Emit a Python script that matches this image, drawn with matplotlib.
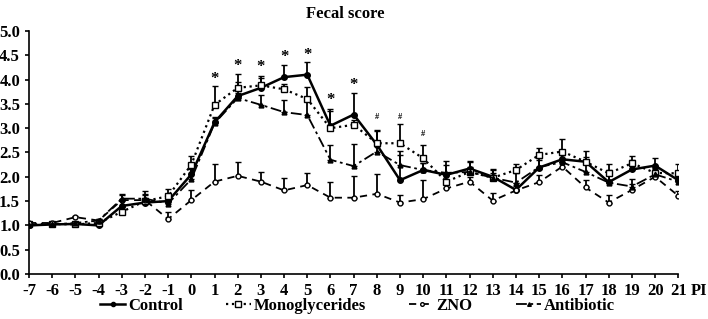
import numpy as np
from matplotlib import pyplot as plt
from matplotlib.lines import Line2D

# days post infection
days = list(range(-7, 22))

control = [1.0, 1.02, 1.03, 1.0, 1.4, 1.47, 1.5, 2.05, 3.12, 3.66, 3.83, 4.05, 4.1, 3.05, 3.28,
           2.66, 1.93, 2.14, 2.04, 2.17, 2.0, 1.73, 2.19, 2.36, 2.31, 1.89, 2.15, 2.23, 1.93]
control_err = [0.0, 0.02, 0.03, 0.02, 0.12, 0.1, 0.12, 0.2, 0.1, 0.3, 0.2, 0.25, 0.27, 0.35, 0.44,
               0.3, 0.6, 0.15, 0.2, 0.15, 0.15, 0.15, 0.2, 0.15, 0.22, 0.2, 0.2, 0.15, 0.15]

mono = [1.02, 1.03, 1.02, 1.05, 1.28, 1.5, 1.6, 2.25, 3.48, 3.83, 3.88, 3.8, 3.6, 3.0, 3.07,
        2.69, 2.69, 2.38, 1.9, 2.1, 1.98, 2.14, 2.45, 2.52, 2.31, 2.07, 2.28, 2.08, 2.07]
mono_err = [0.02, 0.02, 0.03, 0.05, 0.1, 0.15, 0.15, 0.18, 0.38, 0.28, 0.2, 0.1, 0.25, 0.35, 0.1,
            0.25, 0.4, 0.28, 0.15, 0.1, 0.15, 0.12, 0.15, 0.25, 0.1, 0.2, 0.15, 0.1, 0.2]

zno = [1.05, 1.05, 1.17, 1.1, 1.52, 1.52, 1.13, 1.52, 1.9, 2.02, 1.9, 1.72, 1.83, 1.57, 1.57,
       1.65, 1.47, 1.54, 1.76, 1.9, 1.51, 1.72, 1.89, 2.21, 1.78, 1.47, 1.73, 2.0, 1.61]
zno_err = [0.02, 0.02, 0.03, 0.03, 0.1, 0.1, 0.15, 0.2, 0.37, 0.28, 0.2, 0.25, 0.25, 0.33, 0.45,
           0.4, 0.15, 0.4, 0.1, 0.1, 0.15, 0.1, 0.15, 0.1, 0.15, 0.15, 0.12, 0.1, 0.1]

anti = [1.0, 1.02, 1.05, 1.1, 1.55, 1.55, 1.45, 1.95, 3.1, 3.62, 3.48, 3.33, 3.27, 2.35, 2.22,
        2.52, 2.24, 2.14, 2.08, 2.1, 1.98, 1.88, 2.2, 2.3, 2.1, 1.88, 1.8, 2.05, 1.9]
anti_err = [0.02, 0.02, 0.03, 0.03, 0.1, 0.15, 0.15, 0.2, 0.1, 0.1, 0.2, 0.25, 0.3, 0.3, 0.45,
            0.2, 0.2, 0.15, 0.25, 0.2, 0.1, 0.2, 0.15, 0.15, 0.2, 0.25, 0.15, 0.1, 0.1]

star_days = [1, 2, 3, 4, 5, 6, 7]
star_y = [4.02, 4.28, 4.25, 4.46, 4.5, 3.57, 3.88]
hash_days = [8, 9, 10]
hash_y = [3.22, 3.22, 2.88]

plt.rcParams['font.family'] = ['Liberation Serif', 'DejaVu Serif']
plt.rcParams['font.weight'] = 'bold'
plt.rcParams['axes.unicode_minus'] = False

fig = plt.figure(figsize=(7.08, 3.19), dpi=100)
ax = fig.add_axes([0.041, 0.141, 0.917, 0.762])

handles = []
def series(y, err, ls, marker, label, lw=1.3, mfc='black', ms=4):
    ax.errorbar(days, y, yerr=[np.zeros(len(err)), err], color='black', ls=ls, lw=lw,
                marker=marker, ms=ms, mfc=mfc, mec='black', mew=1.0,
                elinewidth=1.3, capsize=2, capthick=1.3)
    handles.append(Line2D([], [], color='black', ls=ls, lw=lw, marker=marker, ms=ms * 0.75,
                          mfc=mfc, mec='black', mew=1.0, label=label))

series(control, control_err, '-', 'o', 'Control', lw=1.8, ms=4)
series(mono, mono_err, ':', 's', 'Monoglycerides', lw=1.6, mfc='white', ms=5)
series(zno, zno_err, (0, (4, 3)), 'o', 'ZNO', lw=1.3, mfc='white', ms=3.5)
series(anti, anti_err, (0, (6, 2, 1.5, 2)), '^', 'Antibiotic', lw=1.3, ms=3.5)

for d, y in zip(star_days, star_y):
    ax.text(d, y, '*', ha='center', va='center', fontsize=12, fontweight='bold')
for d, y in zip(hash_days, hash_y):
    ax.text(d, y, '#', ha='center', va='center', fontsize=6)

ax.set_xlim(-7, 21)
ax.set_ylim(0, 5)
ax.set_xticks(days)
ax.set_yticks(np.arange(0, 5.01, 0.5))
ax.set_yticklabels([f'{v:.1f}' for v in np.arange(0, 5.01, 0.5)])
ax.tick_params(labelsize=12, length=3, width=1.2)
ax.spines['top'].set_visible(False)
ax.spines['right'].set_visible(False)
ax.spines['left'].set_linewidth(1.2)
ax.spines['bottom'].set_linewidth(1.2)

ax.set_title('Fecal score', fontsize=12, fontweight='bold', pad=9, x=0.487)
ax.text(1.02, -0.07, 'PI', transform=ax.transAxes, fontsize=12, fontweight='bold',
        ha='left', va='center')

fig.legend(handles=handles, loc='lower center', ncol=4, frameon=False,
           bbox_to_anchor=(0.505, -0.03), prop={'size': 12, 'weight': 'bold'},
           handlelength=1.5, columnspacing=2.6, handletextpad=0.15)

fig.savefig('out.png', dpi=100)
